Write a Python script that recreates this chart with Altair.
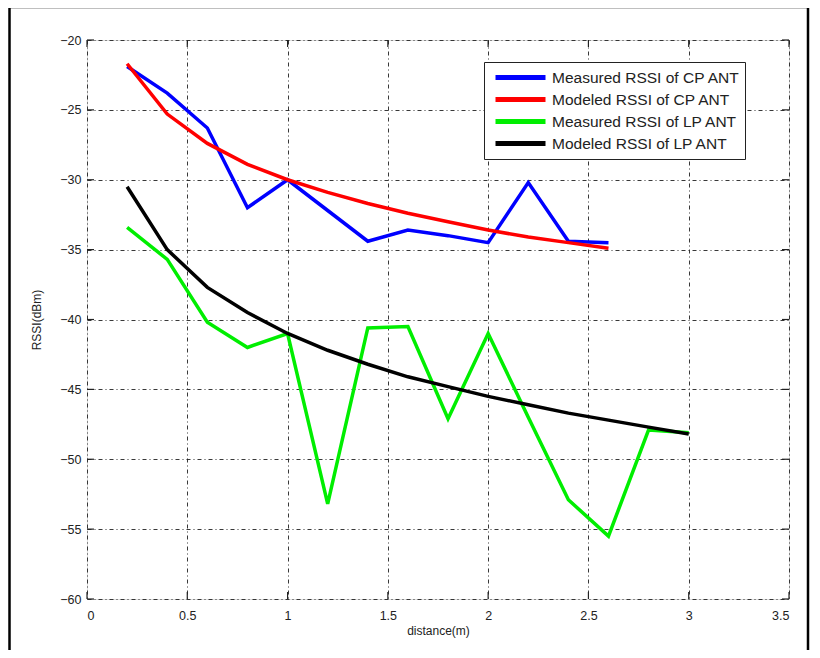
import altair as alt
import pandas as pd

# distances (m)
dist_cp = [0.2, 0.4, 0.6, 0.8, 1.0, 1.2, 1.4, 1.6, 1.8, 2.0, 2.2, 2.4, 2.6]
dist_lp = [0.2, 0.4, 0.6, 0.8, 1.0, 1.2, 1.4, 1.6, 1.8, 2.0, 2.2, 2.4, 2.6, 2.8, 3.0]

measured_cp = [-21.9, -23.8, -26.3, -32.0, -30.0, -32.2, -34.4, -33.6, -34.0, -34.5, -30.2, -34.4, -34.5]
modeled_cp = [-21.7, -25.3, -27.4, -28.9, -30.0, -30.9, -31.7, -32.4, -33.0, -33.6, -34.1, -34.5, -34.9]
measured_lp = [-33.4, -35.7, -40.2, -42.0, -41.0, -53.2, -40.6, -40.5, -47.1, -41.0, -47.0, -52.9, -55.5, -47.9, -48.1]
modeled_lp = [-30.5, -35.0, -37.7, -39.5, -41.0, -42.2, -43.2, -44.1, -44.8, -45.5, -46.1, -46.7, -47.2, -47.7, -48.2]

series_names = ["Measured RSSI of CP ANT", "Modeled RSSI of CP ANT",
                "Measured RSSI of LP ANT", "Modeled RSSI of LP ANT"]
series_colors = ["#0000ff", "#ff0000", "#00ee00", "#000000"]

x_ticks = [0, 0.5, 1, 1.5, 2, 2.5, 3, 3.5]
y_ticks = [-60, -55, -50, -45, -40, -35, -30, -25, -20]

rows = []
for name, xs, ys in [(series_names[0], dist_cp, measured_cp),
                     (series_names[1], dist_cp, modeled_cp),
                     (series_names[2], dist_lp, measured_lp),
                     (series_names[3], dist_lp, modeled_lp)]:
    for i, (xv, yv) in enumerate(zip(xs, ys)):
        rows.append({"series": name, "distance": xv, "rssi": yv, "order": i})
df = pd.DataFrame(rows)

W, H = 702, 559
FONT = "Liberation Sans"

xscale = alt.Scale(domain=[0, 3.5], nice=False, zero=False)
yscale = alt.Scale(domain=[-60, -20], nice=False, zero=False)

lines = alt.Chart(df).mark_line(strokeWidth=3.5, clip=True).encode(
    x=alt.X("distance:Q", scale=xscale,
            axis=alt.Axis(values=x_ticks, format="~g", title="distance(m)",
                          grid=True, gridDash=[4, 3, 1, 3], gridColor="#222",
                          gridOpacity=0.9, tickSize=0, labelPadding=10,
                          domain=False, titlePadding=4, labelFontSize=12.5,
                          titleFontSize=12, titleFontWeight="normal",
                          labelFont=FONT, titleFont=FONT, labelColor="#222",
                          titleColor="#222")),
    y=alt.Y("rssi:Q", scale=yscale,
            axis=alt.Axis(values=y_ticks, format="~g", title="RSSI(dBm)",
                          grid=True, gridDash=[4, 3, 1, 3], gridColor="#222",
                          gridOpacity=0.9, tickSize=0, labelPadding=6,
                          domain=False, titlePadding=16, labelFontSize=12.5,
                          titleFontSize=12, titleFontWeight="normal",
                          labelFont=FONT, titleFont=FONT, labelColor="#222",
                          titleColor="#222")),
    color=alt.Color("series:N",
                    scale=alt.Scale(domain=series_names, range=series_colors),
                    legend=alt.Legend(title=None, orient="none", legendX=397, legendY=22,
                                      symbolType="M-0.5,0H5.75", symbolStrokeWidth=5,
                                      symbolSize=256, symbolFillColor="transparent",
                                      labelFontSize=15.5, labelLimit=400,
                                      labelFont=FONT, labelColor="#222",
                                      strokeColor="#222", fillColor="white",
                                      padding=5, rowPadding=1, labelOffset=42,
                                      cornerRadius=0)),
    order="order:Q",
)

xt = pd.DataFrame({"v": x_ticks})
yt = pd.DataFrame({"v": y_ticks})
tick_x_bot = alt.Chart(xt).mark_rule(color="#222", strokeWidth=1.2).encode(
    x=alt.X("v:Q", scale=xscale), y=alt.value(H), y2=alt.value(H - 7))
tick_x_top = alt.Chart(xt).mark_rule(color="#222", strokeWidth=1.2).encode(
    x=alt.X("v:Q", scale=xscale), y=alt.value(0), y2=alt.value(7))
tick_y_left = alt.Chart(yt).mark_rule(color="#222", strokeWidth=1.2).encode(
    y=alt.Y("v:Q", scale=yscale), x=alt.value(0), x2=alt.value(7))
tick_y_right = alt.Chart(yt).mark_rule(color="#222", strokeWidth=1.2).encode(
    y=alt.Y("v:Q", scale=yscale), x=alt.value(W), x2=alt.value(W - 7))

frame = alt.Chart(pd.DataFrame({"a": [0]})).mark_rect(
    fill=None, stroke="black", strokeWidth=2.5, clip=False).encode(
    x=alt.value(-77.5), x2=alt.value(721), y=alt.value(-33), y2=alt.value(640))

chart = alt.layer(frame, lines, tick_x_bot, tick_x_top, tick_y_left, tick_y_right).properties(
    width=W, height=H,
    autosize=alt.AutoSizeParams(type="none"),
    padding={"left": 79, "top": 32, "right": 23, "bottom": 51},
).configure_view(stroke="#333", strokeWidth=1.5).configure(background="white")

chart.save("out.html", embed_options={"renderer": "svg", "actions": False})
